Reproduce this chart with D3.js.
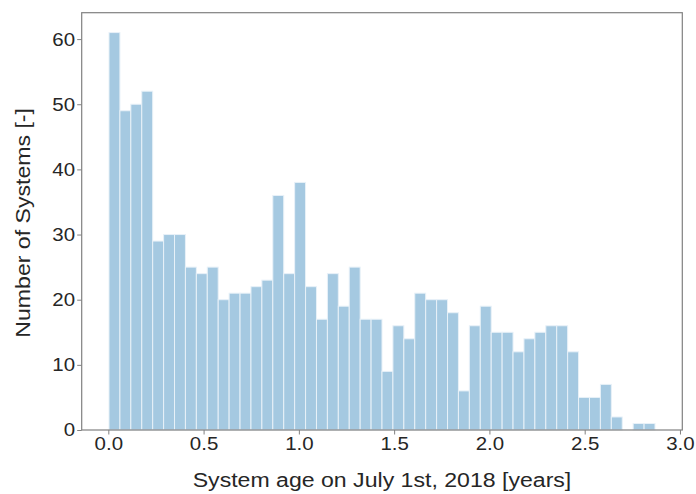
<!DOCTYPE html>
<html>
<head>
<meta charset="utf-8">
<script src="https://cdn.jsdelivr.net/npm/d3@7"></script>
<style>
  html, body { margin: 0; padding: 0; background: #fff; }
  svg { display: block; font-family: "Liberation Sans", Arial, sans-serif; }
</style>
</head>
<body>
<svg id="chart" width="696" height="494"></svg>
<script>
// Histogram of system ages: 50 equal-width bins
const binStart = 0.0036;
const binEnd = 2.869;
const counts = [
  61, 49, 50, 52, 29, 30, 30, 25, 24, 25,
  20, 21, 21, 22, 23, 36, 24, 38, 22, 17,
  24, 19, 25, 17, 17, 9, 16, 14, 21, 20,
  20, 18, 6, 16, 19, 15, 15, 12, 14, 15,
  16, 16, 12, 5, 5, 7, 2, 0, 1, 1
];
const xTicks = [0.0, 0.5, 1.0, 1.5, 2.0, 2.5, 3.0];
const yTicks = [0, 10, 20, 30, 40, 50, 60];
const xLabel = "System age on July 1st, 2018 [years]";
const yLabel = "Number of Systems [-]";

const binWidth = (binEnd - binStart) / counts.length;
const bins = counts.map((c, i) => ({ x0: binStart + i * binWidth, x1: binStart + (i + 1) * binWidth, n: c }));

const margin = { left: 81.7, top: 12.7, right: 696 - 682.3, bottom: 494 - 430 };
const W = 696, H = 494;
const stretch = 1.1;   // widening of the lettering along its run

const span = binEnd - binStart;
const x = d3.scaleLinear()
  .domain([binStart - 0.05 * span, binEnd + 0.05 * span])
  .range([margin.left, W - margin.right]);
const y = d3.scaleLinear()
  .domain([0, d3.max(counts) * 1.05])
  .range([H - margin.bottom, margin.top]);

const svg = d3.select("#chart");
const textColor = "#262626";
const spineColor = "#808080";

// bars
svg.append("g")
  .selectAll("rect")
  .data(bins.filter(b => b.n > 0))
  .join("rect")
  .attr("x", d => x(d.x0))
  .attr("y", d => y(d.n))
  .attr("width", d => x(d.x1) - x(d.x0))
  .attr("height", d => y(0) - y(d.n))
  .attr("fill", "#a5c9e1")
  .attr("stroke", "#e8f1f8")
  .attr("stroke-width", 1);

// axes
const xAxis = svg.append("g")
  .attr("transform", `translate(0,${y(0)})`)
  .call(d3.axisBottom(x).tickValues(xTicks).tickFormat(d3.format(".1f")).tickSize(4.5).tickPadding(2.8));
const yAxis = svg.append("g")
  .attr("transform", `translate(${x.range()[0]},0)`)
  .call(d3.axisLeft(y).tickValues(yTicks).tickFormat(d3.format("d")).tickSize(4.5).tickPadding(2.2));

[xAxis, yAxis].forEach(g => {
  g.select(".domain").remove();
  g.selectAll(".tick line").attr("stroke", spineColor).attr("stroke-width", 1);
  g.selectAll(".tick text")
    .attr("fill", textColor)
    .attr("font-size", 18.6)
    .attr("font-family", "'Liberation Sans', Arial, sans-serif")
    .each(function () {
      const t = d3.select(this);
      const x0 = +t.attr("x") || 0;
      t.attr("x", x0 / stretch).attr("transform", `scale(${stretch},1)`);
    });
});

// frame
svg.append("rect")
  .attr("x", x.range()[0])
  .attr("y", y.range()[1])
  .attr("width", x.range()[1] - x.range()[0])
  .attr("height", y.range()[0] - y.range()[1])
  .attr("fill", "none")
  .attr("stroke", spineColor)
  .attr("stroke-width", 1.2);

// axis titles
svg.append("text")
  .attr("transform", `translate(${(x.range()[0] + x.range()[1]) / 2},486.7) scale(${stretch},1)`)
  .attr("text-anchor", "middle")
  .attr("font-size", 21)
  .attr("fill", textColor)
  .text(xLabel);

svg.append("text")
  .attr("transform", `translate(30,${(y.range()[0] + y.range()[1]) / 2 + 1.5}) rotate(-90) scale(${stretch},1)`)
  .attr("text-anchor", "middle")
  .attr("font-size", 21)
  .attr("fill", textColor)
  .text(yLabel);
</script>
</body>
</html>
